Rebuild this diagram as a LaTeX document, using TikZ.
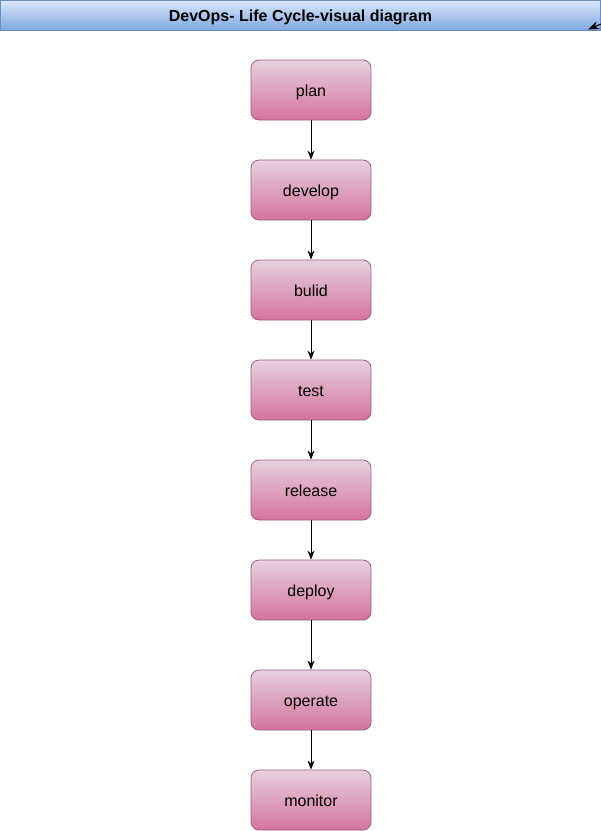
\documentclass[tikz,border=0pt]{standalone}
\usepackage{fontspec}
\setmainfont{Liberation Sans}
\usetikzlibrary{arrows.meta}
\definecolor{hdrtop}{HTML}{DAE8FC}
\definecolor{hdrbot}{HTML}{7EA6E0}
\definecolor{hdrline}{HTML}{6C8EBF}
\definecolor{boxtop}{HTML}{E6D0DE}
\definecolor{boxbot}{HTML}{D5739D}
\definecolor{boxline}{HTML}{996185}
\tikzset{
  stagebox/.style={draw=boxline, line width=0.8pt, rounded corners=8pt,
    top color=boxtop, bottom color=boxbot, minimum width=120pt, minimum height=60pt,
    inner sep=0pt, text height=12pt, text depth=0pt, font=\fontsize{16}{19}\selectfont},
  flow/.style={-{Stealth[length=9pt,width=7pt]}, line width=1pt, black},
}
\begin{document}
\begin{tikzpicture}[x=1pt,y=-1pt]
\useasboundingbox (0,0) rectangle (601,831);
\node[draw=hdrline, line width=0.8pt, top color=hdrtop, bottom color=hdrbot,
  minimum width=600pt, minimum height=30pt, inner sep=0pt, text height=12pt, text depth=0pt,
  font=\bfseries\fontsize{16}{19}\selectfont] (hdr) at (300.5,15.5) {DevOps- Life Cycle-visual diagram};
\coordinate (hdrend) at (601,24);
\draw[-{Stealth[length=11pt,width=8pt]}, line width=1pt] (hdrend) -- (588,29.5);
\node[stagebox] (plan) at (311,90) {plan};
\node[stagebox] (develop) at (311,190) {develop};
\node[stagebox] (bulid) at (311,290) {bulid};
\node[stagebox] (test) at (311,390) {test};
\node[stagebox] (release) at (311,490) {release};
\node[stagebox] (deploy) at (311,590) {deploy};
\node[stagebox] (operate) at (311,700) {operate};
\node[stagebox] (monitor) at (311,800) {monitor};
\draw[flow] (plan) -- (develop);
\draw[flow] (develop) -- (bulid);
\draw[flow] (bulid) -- (test);
\draw[flow] (test) -- (release);
\draw[flow] (release) -- (deploy);
\draw[flow] (deploy) -- (operate);
\draw[flow] (operate) -- (monitor);
\end{tikzpicture}
\end{document}
